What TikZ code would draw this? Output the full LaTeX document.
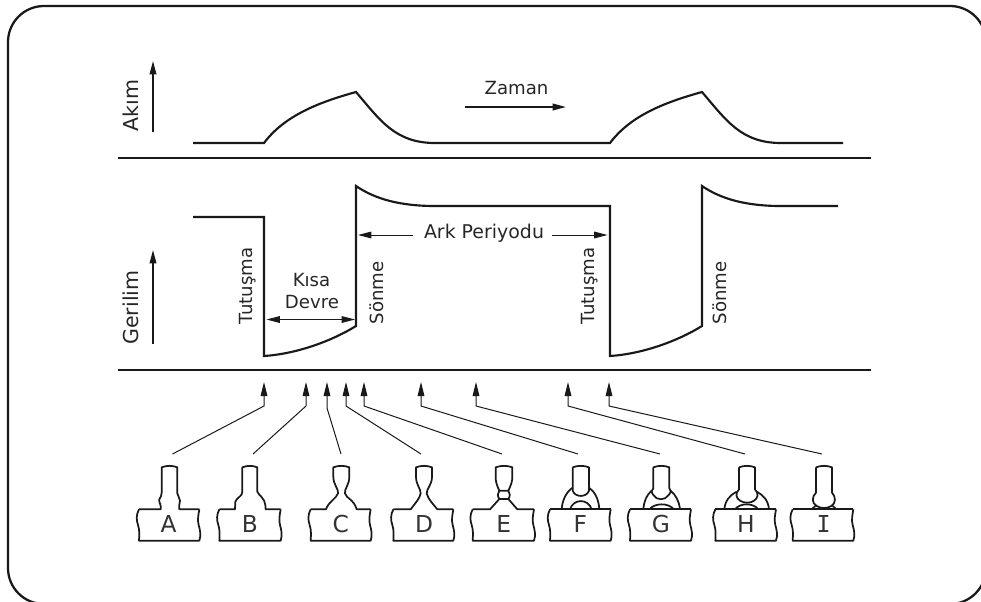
\documentclass[tikz,border=0pt]{standalone}
\usepackage{fontspec}
\setmainfont{DejaVu Sans}
\newfontfamily\serifI{DejaVu Sans Mono}
\usetikzlibrary{arrows.meta}
\tikzset{
  px/.style={x=.75pt,y=-.75pt},
  frameline/.style={line width=1.7pt,black!90},
  curveline/.style={line width=1.6pt,black!90,line join=miter},
  sepline/.style={line width=1.5pt,black!90},
  axisarrow/.style={line width=1.1pt,-{Triangle[length=10pt,width=5pt]},black!90},
  timearrow/.style={line width=1.2pt,-{Triangle[length=10pt,width=5pt]},black!90},
  dimarrow/.style={line width=.75pt,-{Triangle[length=10pt,width=5pt]},black!90},
  ptrline/.style={line width=.75pt,-{Triangle[length=10.5pt,width=5pt]},black!90},
  lab/.style={inner sep=0pt,font=\fontsize{13.6pt}{16pt}\selectfont,text=black!85},
  arklab/.style={inner sep=0pt,font=\fontsize{14.2pt}{16pt}\selectfont,text=black!85},
  biglab/.style={inner sep=0pt,font=\fontsize{15.4pt}{18pt}\selectfont,text=black!85},
  letter/.style={inner sep=0pt,font=\fontsize{17.5pt}{20pt}\selectfont,text=black!80},
  weld/.style={line width=1.3pt,black!90,line join=round},
  zoomA/.style={shift={(120*.75pt,-430*.75pt)},x=.25pt,y=-.25pt},
  zoomB/.style={shift={(480*.75pt,-430*.75pt)},x=.25pt,y=-.25pt},
}
% #1 left x, #2 right x of a plate (zoom units): left wavy side, bottom, right wavy side
\newcommand{\plateends}[2]{
  \draw[weld] (#1,238) .. controls (#1-9,255) and (#1-8,270) .. (#1-3,285)
     .. controls (#1+2,300) and (#1+1,315) .. (#1,332) -- (#2,332)
     .. controls (#2+6,315) and (#2+2,300) .. (#2-2,285)
     .. controls (#2-6,270) and (#2-3,255) .. (#2,238);
}
\begin{document}
\begin{tikzpicture}[px]
\useasboundingbox (0,0) rectangle (981,601);
\clip (0,0) rectangle (981,601);
\draw[frameline,rounded corners=27pt] (8,6) rectangle (986,604);

% current
\draw[curveline] (193,143) -- (264,143) .. controls (285,115) and (320,102) .. (356,92)
   .. controls (380,120) and (395,143) .. (435,143) -- (610,143)
   .. controls (631,115) and (666,102) .. (702,92)
   .. controls (726,120) and (741,143) .. (781,143) -- (843,143);
\draw[sepline] (118,157.5) -- (871,157.5);
% voltage
\draw[curveline] (193,217) -- (264,217) -- (264,356) .. controls (295,354) and (330,342) .. (356,326)
   -- (356,186) .. controls (375,199) and (400,206) .. (435,206) -- (610,206)
   -- (610,356) .. controls (641,354) and (676,342) .. (702,326)
   -- (702,186) .. controls (721,199) and (746,206) .. (781,206) -- (838,206);
\draw[sepline] (118,370) -- (871,370);

% axes
\coordinate (akimA) at (153,132); \coordinate (akimB) at (153,61);
\draw[axisarrow] (akimA) -- (akimB);
\coordinate (gerA) at (153,344); \coordinate (gerB) at (153,250);
\draw[axisarrow] (gerA) -- (gerB);
\coordinate (zamA) at (465,107); \coordinate (zamB) at (566,107);
\draw[timearrow] (zamA) -- (zamB);

\node[biglab,rotate=90] (akim) at (131,105.5) {Akım};
\node[biglab,rotate=90] (geril) at (131,307.5) {Gerilim};
\node[lab] (zaman) at (516.5,88) {Zaman};
\node[lab,rotate=90] (tut1) at (248,286) {Tutuşma};
\node[lab,rotate=90] (tut2) at (590,286) {Tutuşma};
\node[lab,rotate=90] (son1) at (377,293) {Sönme};
\node[lab,rotate=90] (son2) at (720,293) {Sönme};
\node[lab] (kisa) at (311.5,280) {Kısa};
\node[lab] (devre) at (312,302) {Devre};
\node[arklab] (ark) at (484,233) {Ark Periyodu};

\coordinate (ksA) at (311,319.5); \coordinate (ksL) at (266.5,319.5); \coordinate (ksR) at (355,319.5);
\draw[dimarrow] (ksA) -- (ksL);
\draw[dimarrow] (ksA) -- (ksR);
\coordinate (arkL) at (413,235); \coordinate (arkR) at (552,235);
\coordinate (arkLtip) at (358,235); \coordinate (arkRtip) at (607.5,235);
\draw[dimarrow] (arkL) -- (arkLtip);
\draw[dimarrow] (arkR) -- (arkRtip);

% pointers
\foreach \n/\ax/\ky/\fx in {A/264/406/172.5,B/306/406/253,C/327/408/341,D/346/406/421,E/364/406/502,F/421/406/578,G/476/406/660,H/568/406/745,I/609/406/822}{
  \coordinate (p\n) at (\fx,454);
  \coordinate (k\n) at (\ax,\ky);
  \coordinate (t\n) at (\ax,382);
  \draw[ptrline] (p\n) -- (k\n) -- (t\n);
}

\begin{scope}[zoomA]
% A
\plateends{57}{238}
\draw[weld] (57,238) -- (122,238) .. controls (125,225) and (115,215) .. (118,208)
  .. controls (122,200) and (125,198) .. (125,188) -- (125,112)
  .. controls (140,106) and (157,106) .. (172,112) -- (172,190)
  .. controls (172,198) and (180,203) .. (180,212) .. controls (180,222) and (175,228) .. (178,238) -- (238,238);
\node[letter] (lA) at (146,283) {A};
% B
\plateends{298}{482}
\draw[weld] (298,238) -- (345,238) -- (346,215) .. controls (352,200) and (367,200) .. (367,185) -- (367,112)
  .. controls (382,106) and (397,106) .. (412,112) -- (412,185)
  .. controls (415,195) and (435,205) .. (436,225) -- (437,238) -- (482,238);
\node[letter] (lB) at (390,283) {B};
% C
\plateends{572}{752}
\draw[weld] (572,238) -- (618,238) .. controls (625,215) and (650,205) .. (654,190)
  .. controls (657,178) and (640,165) .. (640,140) -- (640,112)
  .. controls (655,106) and (673,106) .. (688,112) -- (688,140)
  .. controls (688,165) and (672,178) .. (675,190) .. controls (678,205) and (702,208) .. (710,238) -- (752,238);
\node[letter] (lC) at (662,283) {C};
% D
\plateends{820}{1000}
\draw[weld] (820,238) -- (872,238) .. controls (885,220) and (900,205) .. (902,190)
  .. controls (902,175) and (888,165) .. (888,140) -- (888,112)
  .. controls (903,106) and (921,106) .. (936,112) -- (936,140)
  .. controls (936,165) and (920,175) .. (920,190) .. controls (925,210) and (940,222) .. (952,238) -- (1000,238);
\node[letter] (lD) at (912,283) {D};
\end{scope}

\begin{scope}[zoomB]
% E
\plateends{-22}{162}
\draw[weld] (-22,238) -- (30,238) -- (58,207) -- (85,207) -- (112,238) -- (162,238);
\draw[weld] (58,207) .. controls (52,198) and (52,190) .. (58,182) -- (85,182)
   .. controls (91,190) and (91,198) .. (85,207);
\draw[weld] (58,182) .. controls (50,165) and (47,155) .. (47,140) -- (47,112)
   .. controls (62,106) and (82,106) .. (97,112) -- (97,140)
   .. controls (97,155) and (93,165) .. (85,182);
\node[letter] (lE) at (71,283) {E};
% F
\plateends{210}{392}
\draw[weld] (210,238) -- (392,238);
\draw[weld] (270,238) .. controls (280,205) and (325,205) .. (335,238);
\draw[weld] (245,238) .. controls (247,208) and (260,185) .. (278,173);
\draw[weld] (327,173) .. controls (345,185) and (356,208) .. (358,238);
\draw[weld] (278,112) -- (278,182) .. controls (285,203) and (320,203) .. (327,182) -- (327,112)
   .. controls (312,106) and (293,106) .. (278,112);
\node[letter] (lF) at (301,283) {F};
% G
\plateends{450}{633}
\draw[weld] (450,238) -- (633,238);
\draw[weld] (508,238) .. controls (525,218) and (565,218) .. (582,238);
\draw[weld] (490,238) .. controls (492,212) and (500,195) .. (515,182);
\draw[weld] (572,182) .. controls (587,195) and (597,212) .. (600,238);
\draw[weld] (520,112) -- (520,175) .. controls (512,185) and (515,190) .. (520,195)
   .. controls (530,212) and (555,212) .. (566,195) .. controls (572,190) and (575,185) .. (568,175) -- (568,112)
   .. controls (553,106) and (535,106) .. (520,112);
\node[letter] (lG) at (543,283) {G};
% H
\plateends{706}{888}
\draw[weld] (706,238) -- (888,238);
\draw[weld] (765,238) .. controls (780,218) and (820,218) .. (835,238);
\draw[weld] (733,238) .. controls (735,212) and (750,195) .. (770,185);
\draw[weld] (830,185) .. controls (850,195) and (865,212) .. (867,238);
\draw[weld] (777,112) -- (777,178) .. controls (765,190) and (768,205) .. (780,212)
   .. controls (792,220) and (812,220) .. (822,212) .. controls (834,205) and (837,190) .. (825,178) -- (825,112)
   .. controls (810,106) and (792,106) .. (777,112);
\node[letter] (lH) at (798,283) {H};
% I
\plateends{938}{1120}
\draw[weld] (938,238) -- (1120,238);
\draw[weld] (995,238) -- (1006,228);
\draw[weld] (1069,238) -- (1058,228);
\draw[weld] (1008,112) -- (1008,188) .. controls (995,200) and (995,220) .. (1010,228)
   .. controls (1022,236) and (1042,236) .. (1054,228) .. controls (1068,220) and (1068,200) .. (1056,188) -- (1056,112)
   .. controls (1041,106) and (1023,106) .. (1008,112);
\node[letter] (lI) at (1031,283) {\serifI I};
\end{scope}
\end{tikzpicture}
\end{document}
